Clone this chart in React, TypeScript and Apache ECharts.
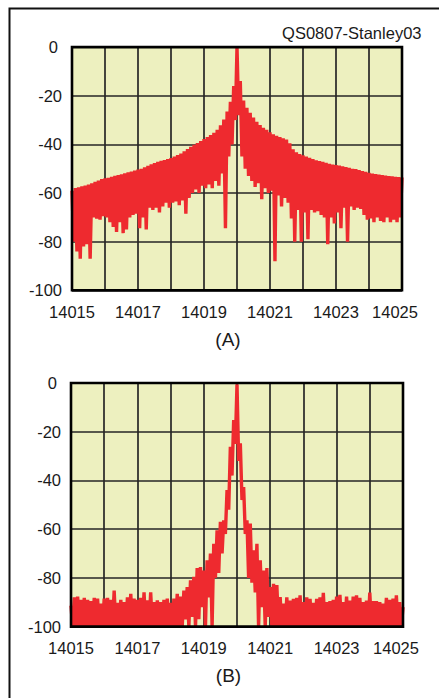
import React, { useEffect, useRef } from "react";
import * as echarts from "echarts";

// Frequency grid of the traces: tops every 0.1 Hz, dips half-way between them
const F_START = 14015;
const F_END = 14025;
const STEP = 0.1;

// (A) upper envelope, dB, at 14015.0, 14015.1 … 14025.0
const topA = [
  -59, -58, -57.6, -57.2, -56.9, -56.5, -56, -55.4, -54.9, -54.3,
  -54, -53.7, -53.3, -52.9, -52.6, -52.3, -51.9, -51.5, -51.2, -50.8,
  -50.4, -50, -49.4, -48.8, -48.2, -47.7, -47.2, -46.8, -46.4, -46,
  -45.6, -45, -44.4, -43.8, -42.8, -41.9, -41, -40.2, -39.5, -38.6,
  -37.8, -37, -36.2, -35.2, -34, -32.2, -29.8, -26.5, -22.5, -16,
  0, -14, -22, -25, -27, -29, -30.7, -32, -33.2, -34,
  -35, -35.8, -36.5, -37, -37.5, -38, -39.5, -42, -43.3, -44,
  -44.5, -45, -45.5, -46, -46.5, -46.9, -47.2, -47.6, -48, -48.3,
  -48.5, -48.7, -49, -49.3, -49.6, -50, -50.2, -50.6, -51, -51.3,
  -51.7, -52, -52.2, -52.4, -52.6, -52.8, -53, -53.1, -53.3, -53.4,
  -53.6,
];

// (A) dips, dB, at 14015.05, 14015.15 … 14024.95
const lowA = [
  -80, -84, -87, -82, -81, -87, -70, -70.5, -71, -69.5,
  -70, -72, -74, -76, -72, -76.5, -75, -70, -69, -68.5,
  -74.5, -70, -75, -66, -67, -66, -68, -65.5, -64, -66,
  -64, -63.5, -65, -63, -68.5, -62, -60, -58.5, -60, -57,
  -58, -56.5, -58, -55, -57, -52, -74.5, -45, -40, -30,
  -28, -45, -50, -53, -55, -57.5, -56, -62.5, -58, -60,
  -59, -88, -61, -65.5, -62, -64, -70.5, -80, -67, -80,
  -68, -79, -67, -68, -67.5, -69, -70, -81, -70, -72.5,
  -68, -74.5, -66, -80, -65.5, -67, -66, -66.5, -69, -71,
  -70.5, -72, -70, -71.5, -72, -70, -72, -71, -72, -70,
];

// (B) upper envelope, dB, at 14015.0 … 14025.0
const topB = [
  -91.4, -88, -87.7, -89, -88.2, -89, -89.5, -88.2, -88.5, -90.6,
  -88.5, -88.2, -89, -85.2, -90.3, -89, -89.9, -88, -86.6, -88.5,
  -89, -88.2, -85.9, -89.2, -85.9, -90, -89.2, -90, -89, -88.5,
  -90.3, -88.5, -86.6, -87.7, -85.2, -83.8, -81, -79.6, -76, -75.6,
  -77, -72.8, -70, -66, -60.5, -57, -56.4, -44, -26.2, -15.2,
  -0.5, -24.8, -42.7, -56.4, -57.7, -68.7, -66, -72.8, -77, -76,
  -83.8, -82.4, -83, -87.9, -90.6, -88, -89.3, -88.6, -88.2, -87.2,
  -90, -88, -88.6, -90.3, -88.6, -88, -86.1, -90, -89.5, -89,
  -87.7, -87, -90, -87.7, -89.3, -87.7, -87.2, -88.2, -90, -89.3,
  -86, -89.5, -89.5, -90, -90.6, -88.2, -89, -88.5, -87.2, -90,
  -92,
];

// (B) dips, dB, at 14015.05 … 14024.95
const lowB = [
  -100, -100, -100, -100, -100, -100, -100, -100, -100, -100,
  -100, -100, -100, -100, -100, -100, -100, -100, -100, -100,
  -100, -100, -100, -100, -100, -100, -100, -100, -100, -100,
  -100, -100, -100, -100, -97, -100, -96, -100, -97, -92,
  -100, -88, -100, -80, -78, -70, -62, -52, -38, -25,
  -32, -48, -62, -80, -82, -86, -100, -92, -100, -96,
  -100, -100, -100, -100, -100, -100, -100, -100, -100, -100,
  -100, -100, -100, -100, -100, -100, -100, -100, -100, -100,
  -100, -100, -100, -100, -100, -100, -100, -100, -100, -100,
  -100, -100, -100, -100, -100, -100, -100, -100, -100, -100,
];

const yTicks = [-100, -80, -60, -40, -20, 0];
const xLabelTicks = [14015, 14017, 14019, 14021, 14023, 14025];

const FONT = '"Liberation Sans", Arial, Helvetica, sans-serif';
const RED = "#ee2a2f";
const PAPER = "#edf0bf";
const INK = "#1a1a1a";

const PLOT_A = { left: 72, top: 47.1, width: 330, height: 243.2 };
const PLOT_B = { left: 71, top: 383, width: 332, height: 243.6 };

// Interleave envelope tops with the dips between them into one trace
function trace(tops: number[], dips: number[]): number[][] {
  const pts: number[][] = [];
  for (let i = 0; i < tops.length; i++) {
    const f = +(F_START + i * STEP).toFixed(2);
    pts.push([f, tops[i]]);
    if (i < dips.length) pts.push([+(f + STEP / 2).toFixed(3), dips[i]]);
  }
  return pts;
}

function xAxis(gridIndex: number) {
  return {
    type: "value",
    gridIndex,
    min: F_START,
    max: F_END,
    interval: 1,
    axisLine: { show: false },
    axisTick: { show: false },
    splitLine: { show: true, lineStyle: { color: "#262626", width: 1.7 } },
    axisLabel: {
      margin: 13,
      fontSize: 16.5,
      fontFamily: FONT,
      color: INK,
      showMinLabel: true,
      showMaxLabel: true,
      hideOverlap: false,
      formatter: (v: number) => {
        const n = Math.round(v);
        if (!xLabelTicks.includes(n)) return "";
        if (n === F_END) return "{last|" + n + "}";
        return String(n);
      },
      rich: {
        last: { fontSize: 16.5, fontFamily: FONT, color: INK, padding: [0, 14, 0, 0] },
      },
    },
  };
}

function yAxis(gridIndex: number) {
  return {
    type: "value",
    gridIndex,
    min: yTicks[0],
    max: yTicks[yTicks.length - 1],
    interval: 20,
    axisLine: { show: false },
    axisTick: { show: false },
    splitLine: { show: true, lineStyle: { color: "#262626", width: 1.7 } },
    axisLabel: {
      margin: 10,
      fontSize: 16.5,
      fontFamily: FONT,
      color: INK,
      formatter: (v: number) => (v === 0 ? "{zero|0}" : String(v)),
      rich: {
        zero: { fontSize: 16.5, fontFamily: FONT, color: INK, padding: [0, 4, 0, 0] },
      },
    },
  };
}

function frame(p: { left: number; top: number; width: number; height: number }) {
  return {
    type: "rect",
    z: 100,
    silent: true,
    shape: { x: p.left, y: p.top, width: p.width, height: p.height },
    style: { fill: "none", stroke: "#000", lineWidth: 2.6 },
  };
}

// Dense spectrum trace: strokes wide enough to merge neighbouring lines
function spectrum(index: number, tops: number[], dips: number[]) {
  return {
    type: "line",
    xAxisIndex: index,
    yAxisIndex: index,
    data: trace(tops, dips),
    symbol: "none",
    clip: true,
    z: 3,
    lineStyle: { color: RED, width: 3.4, join: "bevel", cap: "butt" },
  };
}

export default function App() {
  const ref = useRef<HTMLDivElement>(null);

  useEffect(() => {
    if (!ref.current) return;
    const chart = echarts.init(ref.current, null, { renderer: "svg" });
    chart.setOption({
      animation: false,
      backgroundColor: "#ffffff",
      grid: [
        { ...PLOT_A, show: true, backgroundColor: PAPER, borderWidth: 0 },
        { ...PLOT_B, show: true, backgroundColor: PAPER, borderWidth: 0 },
      ],
      xAxis: [xAxis(0), xAxis(1)],
      yAxis: [yAxis(0), yAxis(1)],
      series: [spectrum(0, topA, lowA), spectrum(1, topB, lowB)],
      graphic: [
        {
          type: "rect",
          z: 100,
          silent: true,
          shape: { x: 9.5, y: 8.5, width: 460, height: 720 },
          style: { fill: "none", stroke: "#111", lineWidth: 2 },
        },
        frame(PLOT_A),
        frame(PLOT_B),
        {
          type: "text",
          z: 100,
          x: 421.5,
          y: 33,
          style: {
            text: "QS0807-Stanley03",
            fontSize: 16.5,
            fontFamily: FONT,
            fill: INK,
            align: "right",
            verticalAlign: "middle",
          },
        },
        {
          type: "text",
          z: 100,
          x: 228,
          y: 339,
          style: {
            text: "(A)",
            fontSize: 19,
            fontFamily: FONT,
            fill: INK,
            align: "center",
            verticalAlign: "middle",
          },
        },
        {
          type: "text",
          z: 100,
          x: 228.5,
          y: 675,
          style: {
            text: "(B)",
            fontSize: 19,
            fontFamily: FONT,
            fill: INK,
            align: "center",
            verticalAlign: "middle",
          },
        },
      ],
    });
    return () => chart.dispose();
  }, []);

  return (
    <div
      ref={ref}
      style={{ position: "absolute", left: 0, top: 0, width: 439, height: 698 }}
    />
  );
}
